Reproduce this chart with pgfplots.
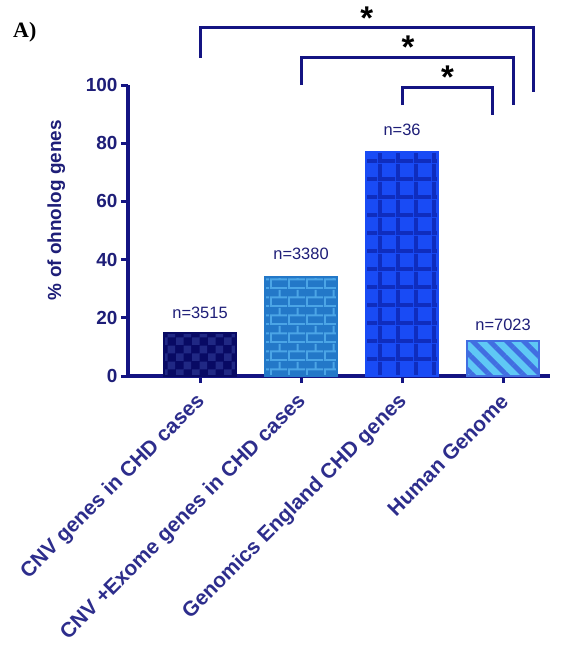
\documentclass[border=0pt]{standalone}
\usepackage{pgfplots}
\pgfplotsset{compat=1.18}
\usetikzlibrary{patterns,patterns.meta}
\usepackage{fontspec}
\setmainfont{Liberation Sans}
\newfontfamily\serifA{Liberation Serif}
\definecolor{navy}{RGB}{30,30,120}
\definecolor{labnavy}{RGB}{45,45,140}
\definecolor{axnavy}{RGB}{20,20,130}
\definecolor{bOneF}{RGB}{8,10,100}
\definecolor{bOneP}{RGB}{32,40,132}
\definecolor{bTwoF}{RGB}{35,120,200}
\definecolor{bTwoP}{RGB}{75,165,230}
\definecolor{bThrF}{RGB}{25,75,245}
\definecolor{bThrP}{RGB}{15,45,190}
\definecolor{bFouF}{RGB}{95,200,245}
\definecolor{bFouP}{RGB}{65,110,225}
\pgfdeclarepattern{
  name=mychecker, type=uncolored,
  bottom left={\pgfpoint{0bp}{0bp}}, top right={\pgfpoint{16bp}{16bp}},
  tile size={\pgfpoint{16bp}{16bp}},
  code={
    \pgfpathrectangle{\pgfpoint{0bp}{0bp}}{\pgfpoint{8bp}{8bp}}
    \pgfpathrectangle{\pgfpoint{8bp}{8bp}}{\pgfpoint{8bp}{8bp}}
    \pgfusepath{fill}
  }
}
\pgfdeclarepattern{
  name=mybricks, type=uncolored,
  bottom left={\pgfpoint{0bp}{0bp}}, top right={\pgfpoint{18bp}{18bp}},
  tile size={\pgfpoint{18bp}{18bp}},
  code={
    \pgfpathrectangle{\pgfpoint{0bp}{0bp}}{\pgfpoint{18bp}{2bp}}
    \pgfpathrectangle{\pgfpoint{0bp}{9bp}}{\pgfpoint{18bp}{2bp}}
    \pgfpathrectangle{\pgfpoint{0bp}{0bp}}{\pgfpoint{2bp}{9bp}}
    \pgfpathrectangle{\pgfpoint{9bp}{9bp}}{\pgfpoint{2bp}{9bp}}
    \pgfusepath{fill}
  }
}
\pgfdeclarepattern{
  name=mygrid, type=uncolored,
  bottom left={\pgfpoint{0bp}{0bp}}, top right={\pgfpoint{18bp}{18bp}},
  tile size={\pgfpoint{18bp}{18bp}},
  code={
    \pgfpathrectangle{\pgfpoint{0bp}{0bp}}{\pgfpoint{18bp}{4bp}}
    \pgfpathrectangle{\pgfpoint{0bp}{0bp}}{\pgfpoint{4bp}{18bp}}
    \pgfusepath{fill}
  }
}
\begin{document}
\begin{tikzpicture}
\useasboundingbox (0,0) rectangle (564bp,-649bp);
\fill[white] (0,0) rectangle (564bp,-649bp);
\node[anchor=base west, inner sep=0, font=\serifA\bfseries\fontsize{22}{22}\selectfont] at (13bp,-37bp) {A)};
\begin{axis}[
  at={(128bp,-376bp)}, anchor=south west,
  scale only axis, width=422bp, height=291bp,
  xmin=-0.713, xmax=3.465, ymin=0, ymax=100,
  axis lines*=left,
  axis line style={axnavy, line width=3.5bp, -},
  ybar, bar width=72bp,
  xtick={0,1,2,3},
  xticklabels={CNV genes in CHD cases, CNV +Exome genes in CHD cases, Genomics England CHD genes, Human Genome},
  ytick={0,20,40,60,80,100},
  tick style={axnavy, line width=3bp},
  tick align=outside, major tick length=7bp,
  /pgf/number format/assume math mode=true,
  yticklabel style={font=\bfseries\fontsize{19}{19}\selectfont, text=navy},
  xticklabel style={font=\bfseries\fontsize{21}{21}\selectfont, text=labnavy, xshift=4bp, yshift=-13bp, rotate=45, anchor=east},
  ylabel={\% of ohnolog genes},
  ylabel style={font=\bfseries\fontsize{19}{19}\selectfont, text=navy, at={(axis description cs:-0.17,0.57)}, anchor=center},
  clip=false,
]
\addplot[bar shift=0pt, fill=bOneF, draw=bOneF, line width=1.5bp, postaction={pattern=mychecker, pattern color=bOneP}] coordinates {(0,14.8)};
\addplot[bar shift=0pt, fill=bTwoF, draw=bTwoF, line width=1.5bp, postaction={pattern=mybricks, pattern color=bTwoP}] coordinates {(1,34.0)};
\addplot[bar shift=0pt, fill=bThrF, draw=bThrF, line width=1.5bp, postaction={pattern=mygrid, pattern color=bThrP}] coordinates {(2,77.0)};
\addplot[bar shift=0pt, fill=bFouF, draw=bFouP, line width=1.5bp, postaction={pattern={Lines[angle=-45, distance=12bp, line width=5bp]}, pattern color=bFouP}] coordinates {(3,12.0)};
\node[anchor=base, text=navy, font=\fontsize{16.5}{16.5}\selectfont] at (axis cs:0,19.9) {n=3515};
\node[anchor=base, text=navy, font=\fontsize{16.5}{16.5}\selectfont] at (axis cs:1,39.9) {n=3380};
\node[anchor=base, text=navy, font=\fontsize{16.5}{16.5}\selectfont] at (axis cs:2,82.8) {n=36};
\node[anchor=base, text=navy, font=\fontsize{16.5}{16.5}\selectfont] at (axis cs:3,15.8) {n=7023};
\draw[axnavy, line width=3bp, line join=miter] (axis cs:0,109.3) -- (axis cs:0,119.6) -- (axis cs:3.3,119.6) -- (axis cs:3.3,97.6);
\draw[axnavy, line width=3bp, line join=miter] (axis cs:1,100) -- (axis cs:1,109.3) -- (axis cs:3.1,109.3) -- (axis cs:3.1,93.1);
\draw[axnavy, line width=3bp, line join=miter] (axis cs:2,93.1) -- (axis cs:2,99.3) -- (axis cs:2.9,99.3) -- (axis cs:2.9,89.7);
\node[anchor=base, inner sep=0, font=\bfseries\fontsize{33}{33}\selectfont] at (axis cs:1.65,119.1) {*};
\node[anchor=base, inner sep=0, font=\bfseries\fontsize{33}{33}\selectfont] at (axis cs:2.06,109.1) {*};
\node[anchor=base, inner sep=0, font=\bfseries\fontsize{33}{33}\selectfont] at (axis cs:2.45,98.8) {*};
\end{axis}
\end{tikzpicture}
\end{document}
